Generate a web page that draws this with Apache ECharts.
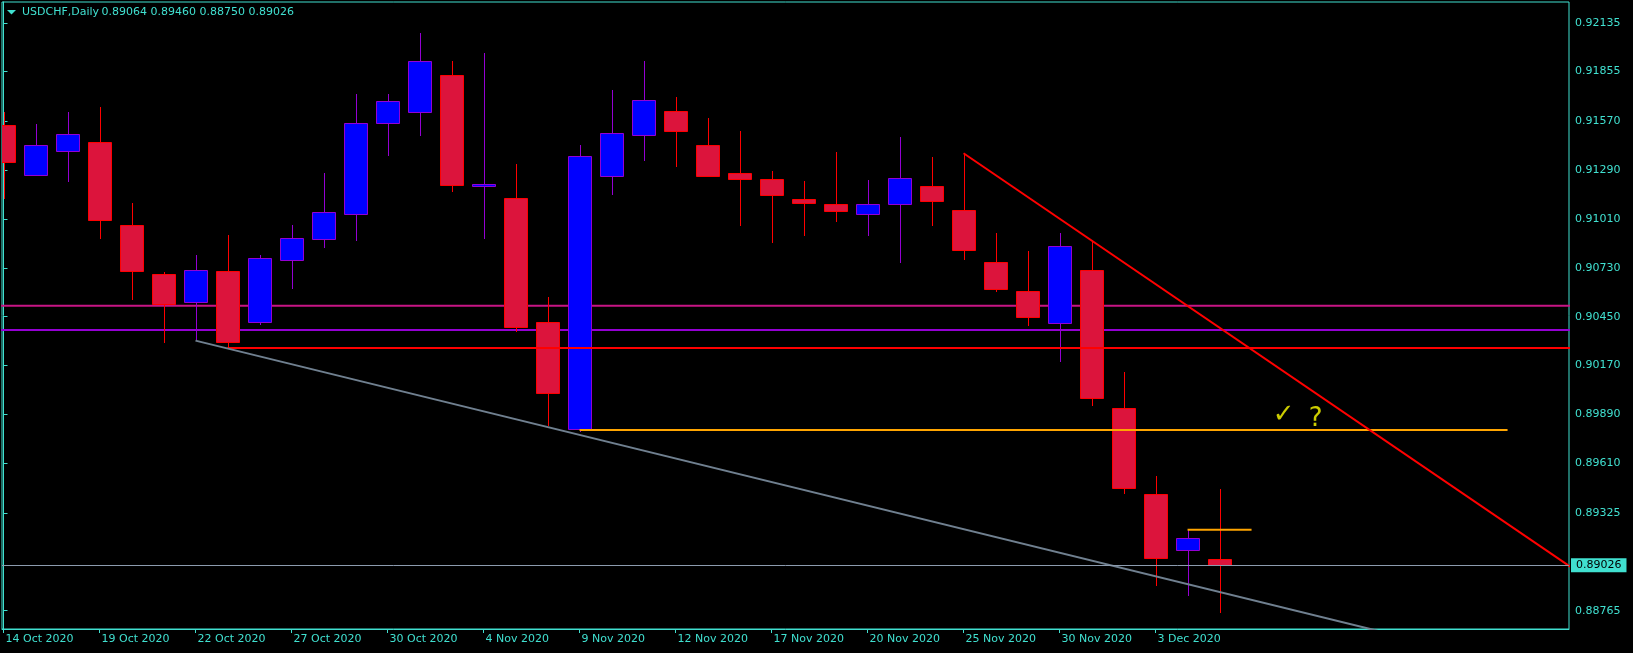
<!DOCTYPE html>
<html><head><meta charset="utf-8">
<script src="https://cdn.jsdelivr.net/npm/echarts@6/dist/echarts.min.js"></script>
<style>html,body{margin:0;padding:0;background:#000;}#c{width:1633px;height:653px;}</style>
</head><body><div id="c"></div>
<script>
const symbolName = 'USDCHF,Daily';
const dates = ['14 Oct 2020','15 Oct 2020','16 Oct 2020','19 Oct 2020','20 Oct 2020','21 Oct 2020','22 Oct 2020','23 Oct 2020',
  '26 Oct 2020','27 Oct 2020','28 Oct 2020','29 Oct 2020','30 Oct 2020','2 Nov 2020','3 Nov 2020','4 Nov 2020','5 Nov 2020',
  '6 Nov 2020','9 Nov 2020','10 Nov 2020','11 Nov 2020','12 Nov 2020','13 Nov 2020','16 Nov 2020','17 Nov 2020','18 Nov 2020',
  '19 Nov 2020','20 Nov 2020','23 Nov 2020','24 Nov 2020','25 Nov 2020','26 Nov 2020','27 Nov 2020','30 Nov 2020','1 Dec 2020',
  '2 Dec 2020','3 Dec 2020','4 Dec 2020','7 Dec 2020'];
const openP  = [0.91547,0.91260,0.91398,0.91450,0.90974,0.90693,0.90533,0.90710,0.90418,0.90773,0.90894,0.91037,0.91558,
  0.91622,0.91834,0.91197,0.91129,0.90420,0.89805,0.91255,0.91490,0.91627,0.91432,0.91272,0.91238,0.91123,0.91094,0.91037,
  0.91094,0.91197,0.91060,0.90762,0.90596,0.90414,0.90716,0.89925,0.89432,0.89111,0.89064];
const highP  = [0.91623,0.91554,0.91623,0.91652,0.91102,0.90706,0.90804,0.90918,0.90804,0.90976,0.91274,0.91726,0.91726,
  0.92076,0.91916,0.91961,0.91325,0.90563,0.91434,0.91749,0.91916,0.91709,0.91589,0.91514,0.91285,0.91228,0.91394,0.91234,
  0.91480,0.91365,0.91387,0.90930,0.90827,0.90930,0.90884,0.90133,0.89537,0.89228,0.89460];
const lowP   = [0.91125,0.91255,0.91222,0.90897,0.90548,0.90301,0.90313,0.90271,0.90403,0.90611,0.90846,0.90886,0.91373,
  0.91487,0.91166,0.90895,0.90364,0.89824,0.89790,0.91149,0.91344,0.91310,0.91250,0.90972,0.90874,0.90914,0.90995,0.90914,
  0.90760,0.90972,0.90777,0.90593,0.90399,0.90189,0.89937,0.89432,0.88909,0.88851,0.88750];
const closeP = [0.91338,0.91432,0.91495,0.91006,0.90710,0.90525,0.90716,0.90307,0.90785,0.90899,0.91048,0.91558,0.91685,
  0.91914,0.91207,0.91209,0.90393,0.90015,0.91369,0.91501,0.91690,0.91513,0.91255,0.91241,0.91146,0.91100,0.91058,0.91094,
  0.91243,0.91115,0.90831,0.90611,0.90447,0.90854,0.89982,0.89467,0.89066,0.89180,0.89026];
const priceTicks = [0.92135,0.91855,0.91570,0.91290,0.91010,0.90730,0.90450,0.90170,0.89890,0.89610,0.89325,0.88765];
const dateTickIdx = [0,3,6,9,12,15,18,21,24,27,30,33,36];
const magentaLevel = [[-1,0.90513],[50,0.90513]];
const purpleLevel  = [[-1,0.90374],[50,0.90374]];
const redLevel     = [[7,0.90271],[50,0.90271]];
const orangeLevel  = [[18,0.89801],[47,0.89801]];
const orangeShort  = [[37,0.89229],[39,0.89229]];
const greyTrend    = [[6,0.90313],[44,0.88602]];
const redTrend     = [[30,0.91387],[49,0.89012]];
const notes        = [[40,0.89887,'✓'],[41,0.89861,'?']];

const FG = '#40E0D0';
const FONT = 'DejaVu Sans';
const last = dates.length - 1;
const bid = closeP[last];
const ohlc = dates.map((d,i)=>[i, openP[i], highP[i], lowP[i], closeP[i]]);

const chart = echarts.init(document.getElementById('c'), null, {renderer:'canvas'});

function levelSeries(data, color, z){
  return {type:'line', data, showSymbol:false, symbol:'none', silent:true, z, clip:true,
    lineStyle:{color, width:2}, animation:false};
}

chart.setOption({
  backgroundColor:'#000',
  animation:false,
  grid:{left:2, top:2, right:64, bottom:24, show:true, borderColor:FG, borderWidth:1, backgroundColor:'transparent'},
  xAxis:{type:'value', min:-0.047, max:48.92,
    axisLine:{show:true, lineStyle:{color:FG, width:1}},
    splitLine:{show:false},
    axisTick:{show:true, customValues:dateTickIdx, length:4, lineStyle:{color:FG}},
    axisLabel:{show:true, customValues:dateTickIdx, formatter:v=>dates[Math.round(v)], color:FG,
      fontFamily:FONT, fontSize:11, align:'left', margin:5, padding:[0,0,0,2]}
  },
  yAxis:{type:'value', position:'right', min:0.88660, max:0.92254,
    axisLine:{show:true, lineStyle:{color:FG, width:1}},
    splitLine:{show:false},
    axisTick:{show:true, customValues:priceTicks, length:4, lineStyle:{color:FG}},
    axisLabel:{show:true, customValues:priceTicks, formatter:v=>v.toFixed(5), color:FG,
      fontFamily:FONT, fontSize:11, margin:6}
  },
  graphic:[
    {type:'polygon', shape:{points:[[7,10],[16,10],[11.5,14.5]]}, style:{fill:FG}},
    {type:'text', x:22, y:12.5, style:{text:symbolName, fill:FG, font:'11px "DejaVu Sans"', textVerticalAlign:'middle'}},
    {type:'text', x:101.5, y:12.5, style:{text:[openP[last],highP[last],lowP[last],closeP[last]].map(v=>v.toFixed(5)).join(' '),
      fill:FG, font:'11px "DejaVu Sans"', textVerticalAlign:'middle'}}
  ],
  series:[
    levelSeries(magentaLevel,'#C71585',1),
    levelSeries(purpleLevel,'#9400D3',1),
    {type:'custom', z:2, clip:true, animation:false,
      renderItem:function(params, api){
        const i=api.value(0), o=api.value(1), h=api.value(2), l=api.value(3), c=api.value(4);
        const pO=api.coord([i,o]), pC=api.coord([i,c]), pH=api.coord([i,h]), pL=api.coord([i,l]);
        const w=Math.round(api.size([1,0])[0]*0.75);
        const bull=c>=o;
        const stroke=bull?'#9400D3':'#FF0000';
        const fill=bull?'#0000FF':'#DC143C';
        const x=Math.round(pO[0]);
        const top=Math.round(Math.min(pO[1],pC[1]));
        const bot=Math.round(Math.max(pO[1],pC[1]));
        return {type:'group', children:[
          {type:'line', shape:{x1:x+0.5,y1:Math.round(pH[1]),x2:x+0.5,y2:Math.round(pL[1])}, style:{stroke, lineWidth:1}},
          {type:'rect', shape:{x:x-w/2+0.5, y:top+0.5, width:w-1, height:Math.max(bot-top,2)}, style:{fill, stroke, lineWidth:1}}
        ]};
      },
      encode:{x:0, y:[1,2,3,4]},
      data:ohlc,
      markLine:{symbol:'none', silent:true, animation:false, precision:5,
        lineStyle:{color:'#8C9BAE', width:1, type:'solid'},
        label:{show:true, position:'end', distance:2, formatter:()=>bid.toFixed(5), color:'#000',
          backgroundColor:'#40E0D0', padding:[2,5,1,5], fontFamily:FONT, fontSize:11},
        data:[{yAxis:bid}]}
    },
    levelSeries(redLevel,'#FF0000',3),
    levelSeries(orangeLevel,'#FFA500',3),
    levelSeries(orangeShort,'#FFA500',3),
    levelSeries(greyTrend,'#708090',3),
    levelSeries(redTrend,'#FF0000',3),
    {type:'scatter', z:4, silent:true, symbolSize:0, data:notes,
      label:{show:true, position:'inside', formatter:p=>p.data[2], color:'#FFFF00', fontFamily:FONT, fontSize:26}}
  ]
});
</script></body></html>
